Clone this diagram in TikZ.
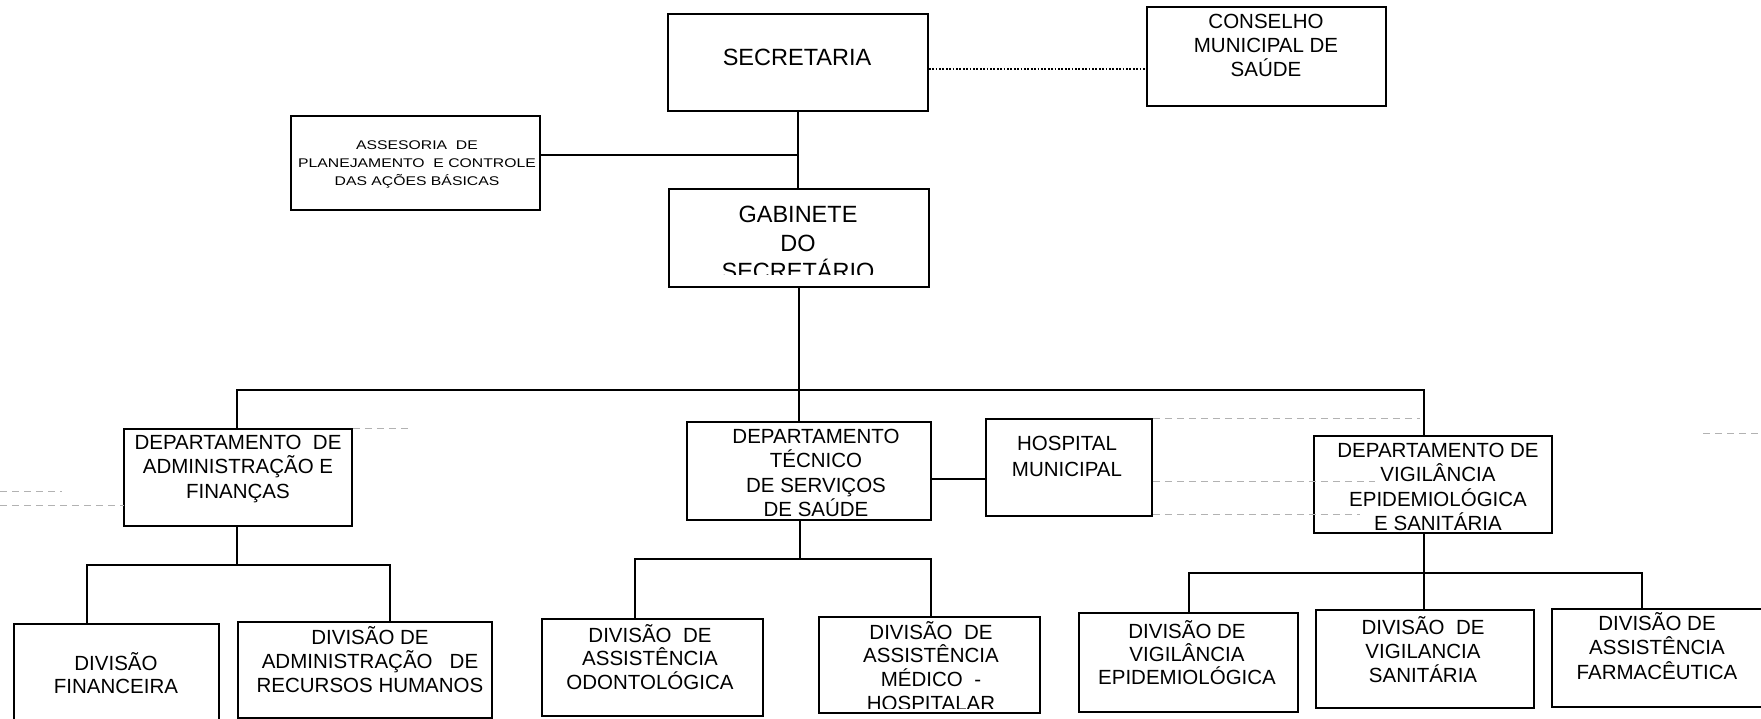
\documentclass[tikz,border=0pt]{standalone}
\usepackage{fontspec}
\setmainfont{Liberation Sans}
\newfontfamily\widesans[FakeStretch=1.25]{Liberation Sans}
\newcommand\mlines[1]{\vtop{\lineskiplimit=-\maxdimen\halign{\hfil##\hfil\cr#1\crcr}}}
\tikzset{
  box/.style={draw, line width=1.6pt, rectangle, inner sep=0pt},
  txt/.style={anchor=base, inner sep=0pt},
  fN/.style={font={\fontsize{20.5}{24.5}\selectfont}},
  fB/.style={font={\fontsize{23.5}{28.5}\selectfont}},
  fS/.style={font={\widesans\fontsize{12.6}{18}\selectfont}},
  link/.style={line width=1.6pt},
  dotlink/.style={line width=2.6pt, dash pattern=on 1.8pt off 1.6pt},
  noise/.style={gray!60, line width=0.9pt, dash pattern=on 7pt off 5pt},
}
\begin{document}
\begin{tikzpicture}[x=1pt, y=-1pt]
\useasboundingbox (0,0) rectangle (1761,719);

% ---- boxes
\node[box, minimum width=260, minimum height=97] (sec)  at (798,62.5) {};
\node[box, minimum width=239, minimum height=99] (cons) at (1266.5,56.5) {};
\node[box, minimum width=249, minimum height=94] (ases) at (415.5,163) {};
\node[box, minimum width=260, minimum height=98] (gab)  at (799,238) {};
\node[box, minimum width=228, minimum height=97] (dadm) at (238,477.5) {};
\node[box, minimum width=244, minimum height=98] (dtec) at (809,471) {};
\node[box, minimum width=166, minimum height=97] (hosp) at (1069,467.5) {};
\node[box, minimum width=238, minimum height=97] (dvig) at (1433,484.5) {};
\node[box, minimum width=205, minimum height=100] (dfin) at (116.5,674) {};
\node[box, minimum width=254, minimum height=96] (drh)  at (365,670) {};
\node[box, minimum width=221, minimum height=97] (dodo) at (652.5,667.5) {};
\node[box, minimum width=221, minimum height=96] (dmed) at (929.5,665) {};
\node[box, minimum width=219, minimum height=99] (depi) at (1188.5,662.5) {};
\node[box, minimum width=218, minimum height=98] (dsan) at (1425,659) {};
\node[box, minimum width=214, minimum height=98] (dfar) at (1659,658) {};

% ---- texts
\node[txt, fB] (tsec) at (797,66) {SECRETARIA};
\node[txt, fN, font={\fontsize{20.5}{24}\selectfont}] (tcons) at (1266,29) {\mlines{CONSELHO\cr MUNICIPAL DE\cr SAÚDE}};
\node[txt, fS] (tases) at (417,150) {\mlines{ASSESORIA\ \ DE\cr PLANEJAMENTO\ \ E CONTROLE\cr DAS AÇÕES BÁSICAS}};
\begin{scope}
  \clip (660,185) rectangle (940,275);
  \node[txt, fB] (tgab) at (798,223) {\mlines{GABINETE\cr DO\cr SECRETÁRIO}};
\end{scope}
\node[txt, fN] (tdadm) at (238,449) {\mlines{DEPARTAMENTO\ \ DE\cr ADMINISTRAÇÃO E\cr FINANÇAS}};
\begin{scope}
  \clip (680,420) rectangle (940,516);
  \node[txt, fN] (tdtec) at (816,443) {\mlines{DEPARTAMENTO\cr TÉCNICO\cr DE SERVIÇOS\cr DE SAÚDE}};
\end{scope}
\node[txt, fN, font={\fontsize{20.5}{26.5}\selectfont}] (thosp) at (1067,450) {\mlines{HOSPITAL\cr MUNICIPAL}};
\begin{scope}
  \clip (1305,430) rectangle (1560,530);
  \node[txt, fN] (tdvig) at (1438,457) {\mlines{DEPARTAMENTO DE\cr VIGILÂNCIA\cr EPIDEMIOLÓGICA\cr E SANITÁRIA}};
\end{scope}
\node[txt, fN, font={\fontsize{20.5}{23.5}\selectfont}] (tdfin) at (116,670) {\mlines{DIVISÃO\cr FINANCEIRA}};
\node[txt, fN, font={\fontsize{20.5}{24.3}\selectfont}] (tdrh) at (370,644) {\mlines{DIVISÃO DE\cr ADMINISTRAÇÃO\ \ \ DE\cr RECURSOS HUMANOS}};
\node[txt, fN, font={\fontsize{20.5}{23.7}\selectfont}] (tdodo) at (650,642) {\mlines{DIVISÃO\ \ DE\cr ASSISTÊNCIA\cr ODONTOLÓGICA}};
\begin{scope}
  \clip (810,610) rectangle (1050,708);
  \node[txt, fN, font={\fontsize{20.5}{23.8}\selectfont}] (tdmed) at (931,639) {\mlines{DIVISÃO\ \ DE\cr ASSISTÊNCIA\cr MÉDICO\ \ -\cr HOSPITALAR}};
\end{scope}
\node[txt, fN, font={\fontsize{20.5}{23}\selectfont}] (tdepi) at (1187,638) {\mlines{DIVISÃO DE\cr VIGILÂNCIA\cr EPIDEMIOLÓGICA}};
\node[txt, fN, font={\fontsize{20.5}{24}\selectfont}] (tdsan) at (1423,634) {\mlines{DIVISÃO\ \ DE\cr VIGILANCIA\cr SANITÁRIA}};
\node[txt, fN, font={\fontsize{20.5}{24.5}\selectfont}] (tdfar) at (1657,630) {\mlines{DIVISÃO DE\cr ASSISTÊNCIA\cr FARMACÊUTICA}};

% ---- junction coordinates
\coordinate (jases) at (798,155);
\coordinate (busL) at (237,390);
\coordinate (busM) at (799,390);
\coordinate (busR) at (1424,390);
\coordinate (admJ) at (237,565);
\coordinate (admL) at (87,565);
\coordinate (admR) at (390,565);
\coordinate (tecJ) at (800,559);
\coordinate (tecL) at (635,559);
\coordinate (tecR) at (931,559);
\coordinate (vigJ) at (1424,573);
\coordinate (vigL) at (1189,573);
\coordinate (vigR) at (1642,573);
\coordinate (hospY) at (0,479);
\coordinate (consY) at (0,69);

% ---- connectors
\draw[link] (sec.south) -- (sec.south |- gab.north);
\draw[link] (ases.east |- jases) -- (jases);
\draw[dotlink] (sec.east |- consY) -- (cons.west |- consY);
\draw[link] (busM |- gab.south) -- (busM);
\draw[link] (busL |- dadm.north) -- (busL) -- (busR) -- (busR |- dvig.north);
\draw[link] (busM) -- (busM |- dtec.north);
\draw[link] (dtec.east |- hospY) -- (hosp.west |- hospY);
% Dept Adm
\draw[link] (admJ |- dadm.south) -- (admJ);
\draw[link] (admL |- dfin.north) -- (admL) -- (admR) -- (admR |- drh.north);
% Dept Tec
\draw[link] (tecJ |- dtec.south) -- (tecJ);
\draw[link] (tecL |- dodo.north) -- (tecL) -- (tecR) -- (tecR |- dmed.north);
% Dept Vig
\draw[link] (vigJ |- dvig.south) -- (vigJ |- dsan.north);
\draw[link] (vigL |- depi.north) -- (vigL) -- (vigR) -- (vigR |- dfar.north);

% ---- faint scan lines
\draw[noise] (hosp.east |- 0,418) -- (1420,418);
\draw[noise] (hosp.east |- 0,481) -- (1375,481);
\draw[noise] (hosp.east |- 0,514) -- (1360,514);
\draw[noise] (dadm.east |- 0,428) -- (408,428);
\draw[noise] (0,491) -- (62,491);
\draw[noise] (0,505) -- (124,505);
\draw[noise] (1703,433) -- (1761,433);
\end{tikzpicture}
\end{document}
